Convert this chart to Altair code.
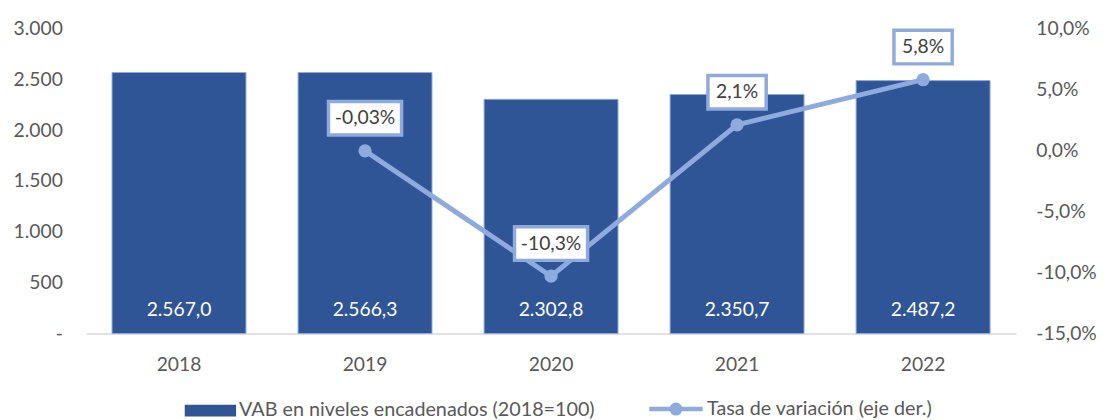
import altair as alt
import pandas as pd

years = ["2018", "2019", "2020", "2021", "2022"]
vab = [2567.0, 2566.3, 2302.8, 2350.7, 2487.2]
rate = [None, -0.03, -10.3, 2.1, 5.8]
rate_labels = ["", "-0,03%", "-10,3%", "2,1%", "5,8%"]
bar_series = "VAB en niveles encadenados (2018=100)"
line_series = "Tasa de variación (eje der.)"
left_ticks = [0, 500, 1000, 1500, 2000, 2500, 3000]
right_ticks = [-15, -10, -5, 0, 5, 10]

df = pd.DataFrame({"year": years, "vab": vab, "rate": rate, "rate_label": rate_labels})
df["bar_series"] = bar_series
df["line_series"] = line_series

BAR = "#2F5597"
LINE = "#8FAADC"
TXT = "#595959"
FS = 19.5
LFS = 20

base = alt.Chart(df)

x = alt.X(
    "year:N",
    scale=alt.Scale(paddingInner=0.28, paddingOuter=0.14),
    axis=alt.Axis(title=None, labelAngle=0, labelFontSize=FS, labelColor=TXT, ticks=False,
                  domainColor="#D9D9D9", domainWidth=1.5, labelPadding=22),
)

y_left = alt.Y(
    "vab:Q",
    scale=alt.Scale(domain=[0, 3000], nice=False),
    axis=alt.Axis(title=None, values=left_ticks, grid=False, ticks=False, domain=False,
                  labelPadding=24, labelFontSize=FS, labelColor=TXT,
                  labelExpr="datum.value == 0 ? '- ' : replace(format(datum.value, ',.0f'), ',', '.')"),
)

bars = base.mark_bar(stroke=LINE, strokeWidth=1).encode(
    x=x,
    y=y_left,
    fill=alt.Fill("bar_series:N", scale=alt.Scale(range=[BAR]),
                  legend=alt.Legend(orient="none", legendX=100, legendY=361, title=None,
                                    labelFontSize=LFS, labelColor=TXT, labelOffset=3, labelLimit=0,
                                    symbolType="M-1,-0.23L1,-0.23L1,0.23L-1,0.23Z",
                                    symbolSize=2704, symbolStrokeWidth=0, symbolOpacity=1)),
)

bartext = base.transform_calculate(
    zero="0",
    lbl="replace(replace(replace(format(datum.vab, ',.1f'), ',', '_'), '.', ','), '_', '.')",
).mark_text(color="white", fontSize=FS, dy=-24).encode(
    x=x, y=alt.Y("zero:Q"), text="lbl:N"
)

y_right = alt.Y(
    "rate:Q",
    scale=alt.Scale(domain=[-15, 10], nice=False),
    axis=alt.Axis(orient="right", title=None, values=right_ticks, grid=False, ticks=False,
                  domain=False, labelPadding=20, labelFontSize=FS, labelColor=TXT,
                  labelExpr="replace(replace(format(datum.value, '.1f'), '.', ','), '\u2212', '-') + '%'"),
)

linebase = base.transform_filter("isValid(datum.rate)")

line = linebase.mark_line(strokeWidth=5).encode(
    x=x,
    y=y_right,
    stroke=alt.Stroke("line_series:N", scale=alt.Scale(range=[LINE]),
                      legend=alt.Legend(orient="none", legendX=568, legendY=356, title=None,
                                        labelFontSize=LFS, labelColor=TXT, labelOffset=2, labelLimit=0,
                                        symbolType="M-1,0L1,0M-0.16,0A0.16,0.16 0 1,0 0.16,0A0.16,0.16 0 1,0 -0.16,0",
                                        symbolSize=2916, symbolStrokeWidth=4.5,
                                        symbolFillColor=LINE)),
)

points = linebase.mark_point(filled=True, size=180, color=LINE, opacity=1).encode(
    x=x, y="rate:Q"
)

box_wide = linebase.transform_filter("length(datum.rate_label) > 4").mark_bar(
    fill="white", stroke=LINE, strokeWidth=3.5, width=74, yOffset=-50, y2Offset=-16
).encode(x=x, y="rate:Q", y2="rate:Q")

box_narrow = linebase.transform_filter("length(datum.rate_label) <= 4").mark_bar(
    fill="white", stroke=LINE, strokeWidth=3.5, width=59, yOffset=-50, y2Offset=-16
).encode(x=x, y="rate:Q", y2="rate:Q")

boxtext = linebase.mark_text(fontSize=FS, color="#404040", dy=-33).encode(
    x=x, y="rate:Q", text="rate_label:N"
)

left = alt.layer(bars, bartext)
right = alt.layer(line, points, box_wide, box_narrow, boxtext)

chart = (
    alt.layer(left, right)
    .resolve_scale(y="independent")
    .properties(width=942, height=309, padding={"top": 8, "left": 5, "right": 5, "bottom": 5},
                background="white")
    .configure(font="Lato")
    .configure_view(stroke=None)
)

chart.save("out.html", embed_options={"renderer": "svg", "actions": False})
